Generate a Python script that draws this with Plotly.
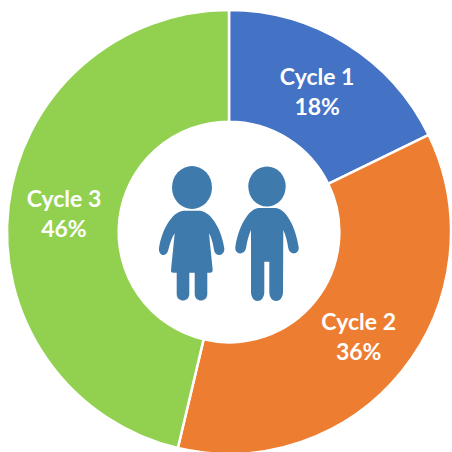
import plotly.graph_objects as go

labels = ["Cycle 1", "Cycle 2", "Cycle 3"]
values = [17.8, 35.9, 46.3]
colors = ["#4472C4", "#ED7D31", "#92D050"]
ICON = "#3F7AAD"

def pt(x, y):
    return f"{140 + x / 3:.1f},{150 + y / 3:.1f}"

def path(cmds):
    out = []
    for c in cmds:
        if c == "Z":
            out.append("Z")
        else:
            letter, pts = c[0], c[1:]
            out.append(letter + " " + " ".join(pt(*p) for p in pts))
    return " ".join(out)

girl = path([
    ("M", (130, 182)), ("L", (180, 182)),
    ("C", (215, 186), (245, 240), (253, 295)),
    ("C", (255, 320), (225, 322), (222, 300)),
    ("C", (219, 280), (214, 262), (207, 250)),
    ("L", (218, 360)), ("Q", (218, 368), (210, 368)), ("L", (202, 368)),
    ("L", (202, 432)), ("C", (202, 458), (164, 458), (164, 432)),
    ("L", (164, 368)), ("L", (148, 368)),
    ("L", (148, 432)), ("C", (148, 458), (110, 458), (110, 432)),
    ("L", (110, 368)), ("L", (100, 368)), ("Q", (92, 368), (93, 360)),
    ("L", (104, 250)),
    ("C", (96, 262), (90, 280), (85, 300)),
    ("C", (80, 322), (55, 320), (57, 295)),
    ("C", (65, 240), (95, 186), (130, 182)), "Z",
])
boy = path([
    ("M", (355, 174)), ("L", (408, 174)),
    ("C", (440, 178), (468, 235), (476, 292)),
    ("C", (478, 316), (448, 316), (445, 295)),
    ("C", (442, 275), (437, 255), (430, 240)),
    ("L", (429, 425)), ("C", (429, 462), (388, 462), (388, 425)),
    ("L", (388, 335)), ("L", (373, 335)),
    ("L", (373, 425)), ("C", (373, 462), (333, 462), (333, 425)),
    ("L", (333, 240)),
    ("C", (326, 255), (321, 275), (318, 295)),
    ("C", (314, 316), (284, 316), (286, 292)),
    ("C", (294, 235), (323, 178), (355, 174)), "Z",
])

shapes = [
    dict(type="path", path=girl, xref="x", yref="y", fillcolor=ICON, line_width=0),
    dict(type="path", path=boy, xref="x", yref="y", fillcolor=ICON, line_width=0),
    dict(type="circle", xref="x", yref="y", x0=172, x1=212, y0=166, y1=209, fillcolor=ICON, line_width=0),
    dict(type="circle", xref="x", yref="y", x0=248.3, x1=285.7, y0=166.5, y1=206.5, fillcolor=ICON, line_width=0),
]

H = 454
fig = go.Figure(go.Pie(
    labels=labels, values=values, sort=False, direction="clockwise", rotation=0,
    hole=0.497, marker=dict(colors=colors, line=dict(color="white", width=2.5)),
    texttemplate="%{label}<br>%{percent:.0%}", textposition="inside",
    insidetextorientation="horizontal",
    textfont=dict(family="Lato", size=23, color="white", weight="bold"),
    domain=dict(x=[7 / 452, 451 / 452], y=[0, (H - 10) / H]),
    showlegend=False,
))
fig.update_layout(
    width=452, height=H, margin=dict(l=0, r=0, t=0, b=0),
    paper_bgcolor="white", plot_bgcolor="white",
    xaxis=dict(range=[0, 452], visible=False),
    yaxis=dict(range=[H, 0], visible=False),
    shapes=shapes,
)
fig.write_html("out.html", config=dict(displayModeBar=False),
               post_script="document.body.style.margin='0';document.documentElement.style.overflow='hidden';")
